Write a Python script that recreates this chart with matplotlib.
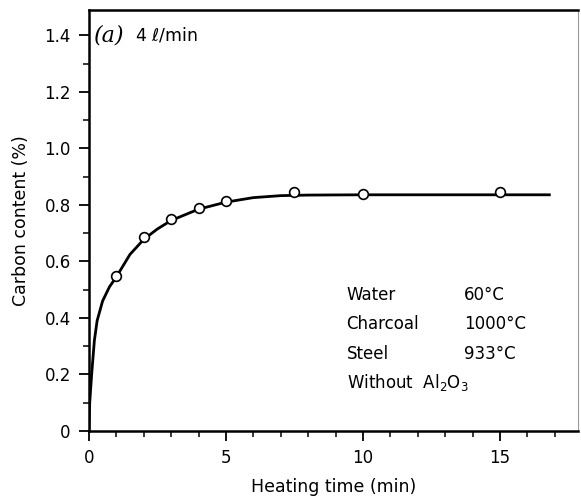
import numpy as np
import matplotlib.pyplot as plt
from matplotlib.ticker import MultipleLocator

# measured points
t_meas = [1, 2, 3, 4, 5, 7.5, 10, 15]
c_meas = [0.55, 0.685, 0.75, 0.79, 0.815, 0.845, 0.84, 0.845]

# fitted curve as drawn
t_fit = [0, 0.03, 0.1, 0.2, 0.3, 0.5, 0.75, 1, 1.5, 2, 2.5, 3, 4, 5, 6, 7, 8, 10, 15, 16.8]
c_fit = [0, 0.1, 0.2, 0.32, 0.39, 0.46, 0.51, 0.545, 0.625, 0.678, 0.715, 0.745, 0.785,
         0.81, 0.826, 0.833, 0.835, 0.836, 0.836, 0.836]

cond_names = ['Water', 'Charcoal', 'Steel']
cond_temps = ['60°C', '1000°C', '933°C']


def main():
    plt.rcParams['font.family'] = 'DejaVu Sans'
    fig = plt.figure(figsize=(5.81, 5.04), dpi=100)
    ax = fig.add_axes([0.153, 0.145, 0.842, 0.835])

    ax.plot(t_fit, c_fit, color='black', lw=2)
    ax.plot(t_meas, c_meas, 'o', mfc='white', mec='black', ms=7, mew=1.2)

    ax.set_xlim(0, 17.85)
    ax.set_ylim(0, 1.49)
    ax.set_xticks([0, 5, 10, 15])
    ax.set_yticks([0, 0.2, 0.4, 0.6, 0.8, 1.0, 1.2, 1.4])
    ax.set_yticklabels(['0', '0.2', '0.4', '0.6', '0.8', '1.0', '1.2', '1.4'])
    ax.xaxis.set_minor_locator(MultipleLocator(1))
    ax.yaxis.set_minor_locator(MultipleLocator(0.1))
    ax.tick_params(which='major', direction='out', length=7, width=1.3, labelsize=12)
    ax.tick_params(axis='y', which='major', pad=6)
    ax.tick_params(axis='x', which='major', pad=6)
    ax.tick_params(which='minor', direction='out', length=4, width=1.1)

    for s in ['left', 'bottom', 'top']:
        ax.spines[s].set_linewidth(1.8)
    ax.spines['right'].set_linewidth(0.8)
    ax.spines['right'].set_color('#999999')

    ax.set_xlabel('Heating time (min)', fontsize=12.5, labelpad=8)
    ax.set_ylabel('Carbon content (%)', fontsize=12.5, labelpad=10)

    ax.text(0.2, 1.4, '(a)', fontsize=16, family='serif', style='italic', va='center')
    ax.text(1.7, 1.4, r'4 $\ell$/min', fontsize=12.5, va='center')

    y0 = 0.48
    dy = 0.103
    for i in range(3):
        ax.text(9.4, y0 - i * dy, cond_names[i], fontsize=12, va='center')
        ax.text(13.7, y0 - i * dy, cond_temps[i], fontsize=12, va='center')
    ax.text(9.4, y0 - 3 * dy, r'Without  Al$_2$O$_3$', fontsize=12, va='center')

    plt.savefig('out.png', dpi=100)


if __name__ == "__main__":
    main()
